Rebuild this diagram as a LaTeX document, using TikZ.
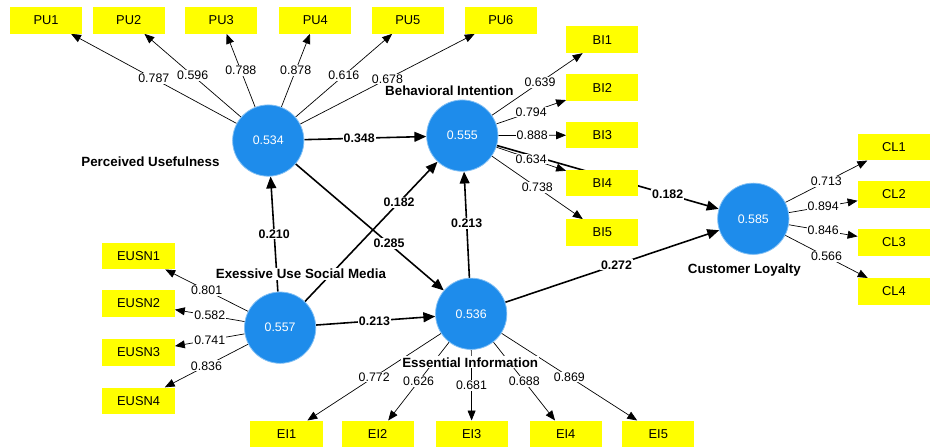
\documentclass[tikz,border=0pt]{standalone}
\usepackage{fontspec}
\setmainfont{Liberation Sans}
\usetikzlibrary{arrows.meta}
\pgfdeclarelayer{back}
\pgfdeclarelayer{bg}
\pgfsetlayers{back,bg,main}
\definecolor{lvblue}{RGB}{30,140,235}
\definecolor{indyellow}{RGB}{255,255,0}
\begin{document}
\begin{tikzpicture}[x=1pt,y=-1pt,
  lv/.style={circle, fill=lvblue, draw=lvblue!55, line width=0.8pt, minimum size=72pt, inner sep=0pt, text=white, font=\fontsize{12.5}{14}\selectfont},
  ind/.style={rectangle, fill=indyellow, minimum width=73pt, minimum height=27pt, inner sep=0pt, font=\fontsize{13}{15}\selectfont},
  lvname/.style={fill=white, inner sep=1pt, font=\bfseries\fontsize{13.5}{15}\selectfont},
  load/.style={draw, line width=0.7pt, -{Triangle[length=10pt,width=8pt]}},
  pathc/.style={draw, line width=1.6pt, -{Triangle[length=12pt,width=10pt]}},
  lw/.style={fill=white, inner sep=1pt, font=\fontsize{12.5}{14}\selectfont},
  pw/.style={fill=white, inner sep=1pt, font=\bfseries\fontsize{12.5}{14}\selectfont}
]
\begin{pgfonlayer}{back}
\useasboundingbox[fill=white] (0,0) rectangle (930,451);
\end{pgfonlayer}

% latent variables
\node[lv] (PU) at (271,142) {0.534};
\node[lv] (BI) at (467,137) {0.555};
\node[lv] (CL) at (761,221) {0.585};
\node[lv] (EUSN) at (283,331) {0.557};
\node[lv] (EI) at (476,317) {0.536};

% indicators
\node[ind] (PU1) at (46.5,20.5) {PU1};
\node[ind] (PU2) at (130,20.5) {PU2};
\node[ind] (PU3) at (223.5,20.5) {PU3};
\node[ind] (PU4) at (318.5,20.5) {PU4};
\node[ind] (PU5) at (412,20.5) {PU5};
\node[ind] (PU6) at (506,20.5) {PU6};
\node[ind] (BI1) at (608.5,40) {BI1};
\node[ind] (BI2) at (608.5,88.5) {BI2};
\node[ind] (BI3) at (608.5,136.5) {BI3};
\node[ind] (BI4) at (608.5,185) {BI4};
\node[ind] (BI5) at (608.5,235) {BI5};
\node[ind] (CL1) at (903,148.5) {CL1};
\node[ind] (CL2) at (903,196.5) {CL2};
\node[ind] (CL3) at (903,245) {CL3};
\node[ind] (CL4) at (903,294.5) {CL4};
\node[ind] (EUSN1) at (140,258.5) {EUSN1};
\node[ind] (EUSN2) at (140,306.5) {EUSN2};
\node[ind] (EUSN3) at (140,356) {EUSN3};
\node[ind] (EUSN4) at (140,405) {EUSN4};
\node[ind] (EI1) at (289.5,438.5) {EI1};
\node[ind] (EI2) at (381.5,438.5) {EI2};
\node[ind] (EI3) at (476.5,438.5) {EI3};
\node[ind] (EI4) at (571.5,438.5) {EI4};
\node[ind] (EI5) at (665,438.5) {EI5};

\begin{pgfonlayer}{bg}
% structural paths
\path[pathc] (PU) -- (BI) node[pw,pos=0.45] {0.348};
\path[pathc] (BI) -- (CL) node[pw,pos=0.77] {0.182};
\path[pathc] (EUSN) -- (PU) node[pw,pos=0.5] {0.210};
\path[pathc] (PU) -- (EI) node[pw,pos=0.63] {0.285};
\path[pathc] (EUSN) -- (BI) node[pw,pos=0.71] {0.182};
\path[pathc] (EI) -- (BI) node[pw,pos=0.51] {0.213};
\path[pathc] (EUSN) -- (EI) node[pw,pos=0.49] {0.213};
\path[pathc] (EI) -- (CL) node[pw,pos=0.52] {0.272};
% outer loadings
\path[load] (PU) -- (PU1) node[lw,pos=0.5] {0.787};
\path[load] (PU) -- (PU2) node[lw,pos=0.5] {0.596};
\path[load] (PU) -- (PU3) node[lw,pos=0.5] {0.788};
\path[load] (PU) -- (PU4) node[lw,pos=0.5] {0.878};
\path[load] (PU) -- (PU5) node[lw,pos=0.5] {0.616};
\path[load] (PU) -- (PU6) node[lw,pos=0.5] {0.678};
\path[load] (BI) -- (BI1) node[lw,pos=0.53] {0.639};
\path[load] (BI) -- (BI2) node[lw,pos=0.5] {0.794};
\path[load] (BI) -- (BI3) node[lw,pos=0.5] {0.888};
\path[load] (BI) -- (BI4) node[lw,pos=0.5] {0.634};
\path[load] (BI) -- (BI5) node[lw,pos=0.5] {0.738};
\path[load] (CL) -- (CL1) node[lw,pos=0.5] {0.713};
\path[load] (CL) -- (CL2) node[lw,pos=0.5] {0.894};
\path[load] (CL) -- (CL3) node[lw,pos=0.5] {0.846};
\path[load] (CL) -- (CL4) node[lw,pos=0.5] {0.566};
\path[load] (EUSN) -- (EUSN1) node[lw,pos=0.5] {0.801};
\path[load] (EUSN) -- (EUSN2) node[lw,pos=0.5] {0.582};
\path[load] (EUSN) -- (EUSN3) node[lw,pos=0.5] {0.741};
\path[load] (EUSN) -- (EUSN4) node[lw,pos=0.5] {0.836};
\path[load] (EI) -- (EI1) node[lw,pos=0.5] {0.772};
\path[load] (EI) -- (EI2) node[lw,pos=0.5] {0.626};
\path[load] (EI) -- (EI3) node[lw,pos=0.5] {0.681};
\path[load] (EI) -- (EI4) node[lw,pos=0.5] {0.688};
\path[load] (EI) -- (EI5) node[lw,pos=0.5] {0.869};
\end{pgfonlayer}

% construct names
\node[lvname] (nPU) at (152,163) {Perceived Usefulness};
\node[lvname] (nBI) at (454,92) {Behavioral Intention};
\node[lvname] (nCL) at (752,273) {Customer Loyalty};
\node[lvname] (nEUSN) at (304,277) {Exessive Use Social Media};
\node[lvname] (nEI) at (475,366) {Essential Information};
\end{tikzpicture}
\end{document}
